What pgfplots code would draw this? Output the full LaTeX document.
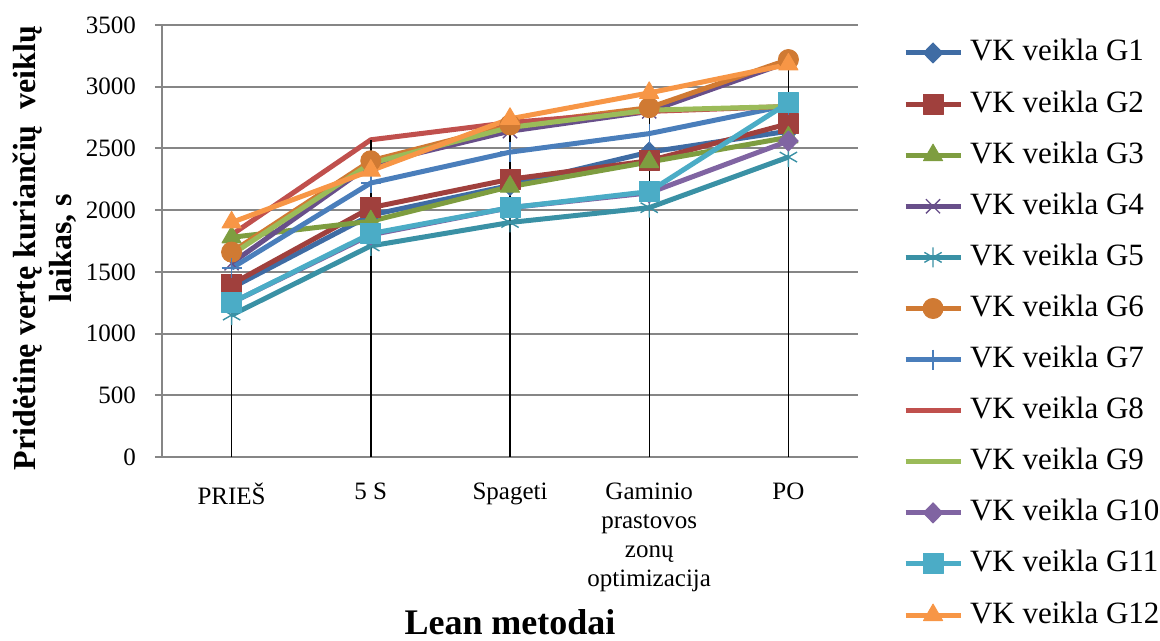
\documentclass[border=0pt]{standalone}
\usepackage{fontspec}
\setmainfont{Liberation Serif}
\usepackage{pgfplots}
\pgfplotsset{compat=1.18}
\definecolor{gridgray}{HTML}{868686}
\definecolor{g1}{HTML}{3F6CA4}
\definecolor{g2}{HTML}{A0403D}
\definecolor{g3}{HTML}{7E9D40}
\definecolor{g4}{HTML}{684F8A}
\definecolor{g5}{HTML}{3A91A5}
\definecolor{g6}{HTML}{D07A33}
\definecolor{g7}{HTML}{4A7EBB}
\definecolor{g8}{HTML}{C0504D}
\definecolor{g9}{HTML}{9BBB59}
\definecolor{g10}{HTML}{8064A2}
\definecolor{g11}{HTML}{4BACC6}
\definecolor{g12}{HTML}{F79646}
\begin{document}
\begin{tikzpicture}
\useasboundingbox (-81pt,-92pt) rectangle (499pt,228.5pt);
\begin{axis}[
  at={(0,0)}, anchor=south west,
  scale only axis, width=348pt, height=216pt,
  xmin=-0.5, xmax=4.5, ymin=0, ymax=3500,
  xtick={0,1,2,3,4},
  xticklabels={PRIEŠ,5 S,Spageti,{Gaminio\\prastovos\\zonų\\optimizacija},PO},
  ytick={0,500,1000,1500,2000,2500,3000,3500},
  axis x line*=bottom, axis y line*=left,
  axis line style={-, draw=gridgray, line width=1pt},
  ymajorgrids, grid style={draw=gridgray, line width=1pt},
  x tick style={draw=none},
  y tick style={draw=gridgray, line width=1pt},
  tick align=outside, major tick length=3.5pt,
  ticklabel style={font=\fontsize{12.5}{14.5}\selectfont},
  xticklabel style={align=center, yshift=-6pt},
  yticklabel style={xshift=-6pt},
  /pgf/number format/assume math mode=true,
  scaled y ticks=false,
  yticklabel style={/pgf/number format/1000 sep={}},
  ylabel={Pridėtinę vertę kuriančių\ \ veiklų\\laikas, s},
  ylabel style={at={(axis description cs:-0.168,0.484)}, anchor=center, align=center, font=\bfseries\fontsize{16}{18}\selectfont},
  xlabel={Lean metodai},
  xlabel style={at={(axis description cs:0.5,-0.382)}, anchor=center, font=\bfseries\fontsize{18}{20}\selectfont},
  every axis plot/.append style={line width=2.5pt, line join=round},
  legend image code/.code={\draw[mark repeat=2,mark phase=2,#1] plot coordinates {(0pt,0pt)(13.75pt,0pt)(27.5pt,0pt)};},
  legend cell align=left,
  legend style={at={(axis description cs:1.0647,0.9676)}, anchor=north west, draw=none, fill=none, inner sep=0pt, outer sep=0pt,
    font=\fontsize{15.5}{18}\selectfont, row sep=11.55pt,
    nodes={inner sep=0pt, text height=11pt, text depth=3pt},
    /tikz/every odd column/.append style={column sep=3.5pt}},
]
\addplot[g1, mark=diamond*, mark size=5pt, mark options={fill=g1, line width=0.5pt, xscale=1.3}] coordinates {(0,1370)(1,1960)(2,2200)(3,2470)(4,2640)};
\addlegendentry{VK veikla G1}
\addplot[g2, mark=square*, mark size=5pt, mark options={fill=g2, line width=0.5pt}] coordinates {(0,1400)(1,2020)(2,2250)(3,2400)(4,2700)};
\addlegendentry{VK veikla G2}
\addplot[g3, mark=triangle*, mark size=5.5pt, mark options={fill=g3, line width=0.5pt}] coordinates {(0,1780)(1,1910)(2,2190)(3,2390)(4,2590)};
\addlegendentry{VK veikla G3}
\addplot[g4, mark=x, mark size=5pt, mark options={line width=0.7pt}] coordinates {(0,1570)(1,2370)(2,2640)(3,2800)(4,3200)};
\addlegendentry{VK veikla G4}
\addplot[g5, mark=asterisk, mark size=5pt, mark options={line width=0.7pt}] coordinates {(0,1150)(1,1710)(2,1900)(3,2020)(4,2430)};
\addlegendentry{VK veikla G5}
\addplot[g6, mark=*, mark size=5pt, mark options={fill=g6, line width=0.5pt}] coordinates {(0,1660)(1,2400)(2,2690)(3,2830)(4,3220)};
\addlegendentry{VK veikla G6}
\addplot[g7, mark=+, mark size=5pt, mark options={line width=0.7pt}] coordinates {(0,1530)(1,2220)(2,2470)(3,2620)(4,2850)};
\addlegendentry{VK veikla G7}
\addplot[g8, no marks] coordinates {(0,1800)(1,2570)(2,2710)(3,2800)(4,2840)};
\addlegendentry{VK veikla G8}
\addplot[g9, no marks] coordinates {(0,1640)(1,2380)(2,2670)(3,2810)(4,2840)};
\addlegendentry{VK veikla G9}
\addplot[g10, mark=diamond*, mark size=5pt, mark options={fill=g10, line width=0.5pt, xscale=1.3}] coordinates {(0,1250)(1,1800)(2,2020)(3,2140)(4,2560)};
\addlegendentry{VK veikla G10}
\addplot[g11, mark=square*, mark size=5pt, mark options={fill=g11, line width=0.5pt}] coordinates {(0,1250)(1,1810)(2,2020)(3,2150)(4,2870)};
\addlegendentry{VK veikla G11}
\addplot[g12, mark=triangle*, mark size=5.5pt, mark options={fill=g12, line width=0.5pt}] coordinates {(0,1900)(1,2320)(2,2740)(3,2950)(4,3180)};
\addlegendentry{VK veikla G12}
\addplot[ycomb, black, line width=0.7pt, no marks, forget plot] coordinates {(0,1900)(1,2570)(2,2740)(3,2950)(4,3220)};
\end{axis}
\end{tikzpicture}
\end{document}
